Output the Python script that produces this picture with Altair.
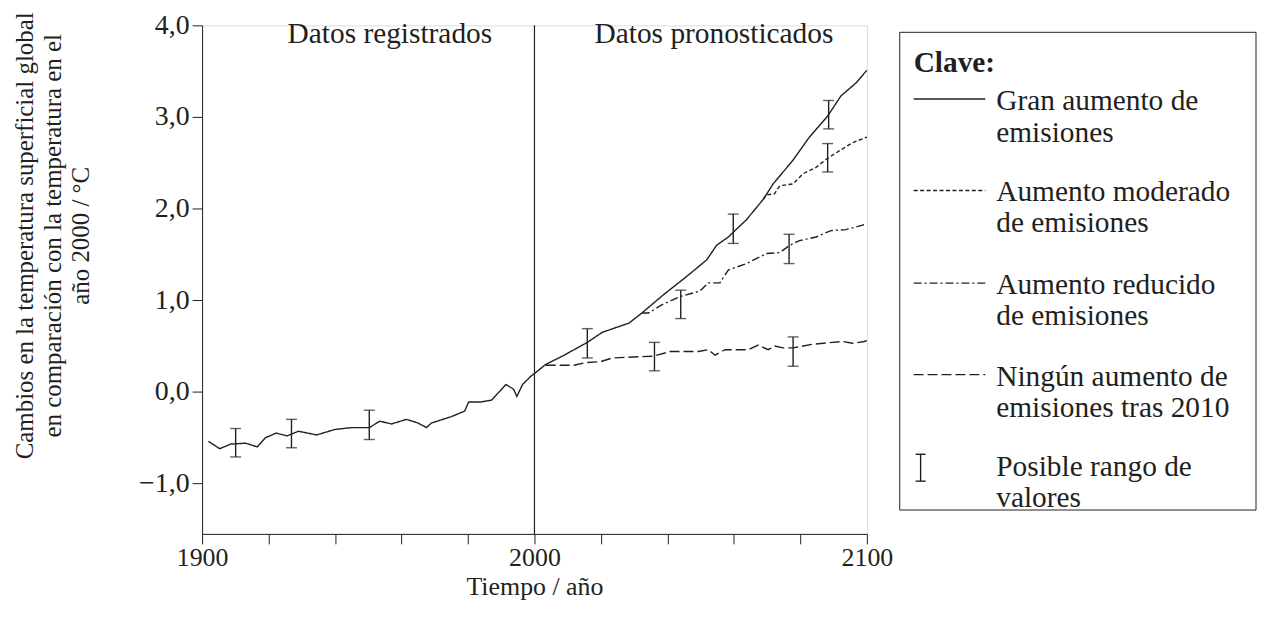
import altair as alt
import pandas as pd

FONT = "Liberation Serif"
INK = "#231f20"

# ---- recorded data (1900-2000)
rec_year = [1901.9, 1905.3, 1908.6, 1913.1, 1916.6, 1919.1, 1922.3, 1925.6, 1929.0, 1934.5,
            1940.0, 1945.0, 1950.3, 1953.5, 1957.0, 1961.5, 1965.0, 1967.5, 1969.0, 1975.0,
            1979.0, 1980.2, 1983.9, 1987.1, 1991.4, 1993.7, 1994.7, 1996.4, 1998.9, 2000.0]
rec_val = [-0.54, -0.62, -0.57, -0.56, -0.60, -0.50, -0.45, -0.48, -0.43, -0.47,
           -0.41, -0.39, -0.39, -0.32, -0.35, -0.30, -0.34, -0.39, -0.34, -0.27,
           -0.21, -0.11, -0.11, -0.09, 0.08, 0.03, -0.05, 0.08, 0.17, 0.20]

# ---- projections
high_year = [2000.0, 2003.4, 2008.4, 2015.9, 2020.4, 2028.4, 2032.3, 2038.8, 2045.8, 2051.8,
             2054.8, 2058.3, 2063.8, 2068.8, 2071.8, 2077.8, 2082.7, 2088.2, 2092.2, 2096.7, 2100.0]
high_val = [0.20, 0.30, 0.39, 0.54, 0.65, 0.75, 0.86, 1.06, 1.26, 1.44,
            1.60, 1.69, 1.88, 2.10, 2.27, 2.53, 2.78, 3.01, 3.23, 3.37, 3.51]

mod_year = [2068.8, 2069.8, 2072.2, 2073.8, 2077.8, 2080.8, 2084.7, 2088.2, 2091.7, 2095.7, 2100.0]
mod_val = [2.10, 2.15, 2.16, 2.25, 2.27, 2.38, 2.45, 2.55, 2.63, 2.72, 2.78]

red_year = [2032.3, 2034.3, 2038.3, 2043.8, 2049.8, 2052.3, 2055.8, 2058.3, 2063.8, 2069.8,
            2073.8, 2076.8, 2079.7, 2084.7, 2089.2, 2093.7, 2098.7, 2100.0]
red_val = [0.86, 0.86, 0.95, 1.04, 1.10, 1.19, 1.19, 1.33, 1.40, 1.51,
           1.52, 1.60, 1.65, 1.69, 1.76, 1.77, 1.82, 1.83]

none_year = [2003.4, 2011.9, 2015.4, 2019.9, 2023.4, 2035.8, 2040.8, 2049.3, 2052.3, 2054.3,
             2057.3, 2064.3, 2067.3, 2070.3, 2072.3, 2074.8, 2077.8, 2083.7, 2089.7, 2092.7,
             2095.7, 2099.2, 2100.0]
none_val = [0.29, 0.29, 0.32, 0.33, 0.37, 0.39, 0.44, 0.44, 0.46, 0.40,
            0.46, 0.46, 0.51, 0.46, 0.50, 0.48, 0.48, 0.52, 0.54, 0.55,
            0.53, 0.55, 0.56]

# ---- possible ranges (error bars)
eb_year = [1910.1, 1926.9, 1950.3, 2015.9, 2036.1, 2044.0, 2059.8, 2076.6, 2077.8, 2088.2, 2088.5]
eb_lo = [-0.71, -0.61, -0.52, 0.37, 0.23, 0.80, 1.62, 1.40, 0.28, 2.40, 2.87]
eb_hi = [-0.40, -0.30, -0.20, 0.69, 0.54, 1.11, 1.94, 1.72, 0.60, 2.71, 3.18]

series_names = ["Registrado", "Gran aumento", "Aumento moderado", "Aumento reducido", "Ningún aumento"]
y_ticks = [-1, 0, 1, 2, 3, 4]
x_ticks = list(range(1900, 2101, 20))

region_labels = ["Datos registrados", "Datos pronosticados"]
region_x = [1956.5, 2054.0]
region_y = [3.9, 3.9]

legend_title = "Clave:"
legend_labels = [["Gran aumento de", "emisiones"],
                 ["Aumento moderado", "de emisiones"],
                 ["Aumento reducido", "de emisiones"],
                 ["Ningún aumento de", "emisiones tras 2010"],
                 ["Posible rango de", "valores"]]

y_title = ["Cambios en la temperatura superficial global",
           "en comparación con la temperatura en el",
           "año 2000 / °C"]
x_title = "Tiempo / año"

# ---- build tables
rows = []
for name, ys, vs in zip(series_names,
                        [rec_year, high_year, mod_year, red_year, none_year],
                        [rec_val, high_val, mod_val, red_val, none_val]):
    for yr, v in zip(ys, vs):
        rows.append({"year": yr, "value": v, "serie": name})
lines_df = pd.DataFrame(rows)
eb_df = pd.DataFrame({"year": eb_year, "lo": eb_lo, "hi": eb_hi})
reg_df = pd.DataFrame({"year": region_x, "value": region_y, "t": region_labels})

dashes = [[1, 0], [1, 0], [4, 2.5], [8, 3, 2, 3], [10, 4]]

xscale = alt.Scale(domain=[1900, 2100], nice=False, zero=False)
yscale = alt.Scale(domain=[-1.55, 4.0], nice=False, zero=False)

x_axis = alt.Axis(values=x_ticks, format="d",
                  labelExpr="datum.value % 100 === 0 ? datum.label : ''",
                  tickSize=10, labelPadding=1, labelFlush=False, labelOverlap=False,
                  grid=False, domainColor=INK, tickColor=INK, labelColor=INK,
                  labelFontSize=26, labelFont=FONT,
                  title=x_title, titleFont=FONT, titleFontSize=26, titleFontWeight="normal",
                  titleColor=INK, titleBaseline="bottom", titleY=66)
y_axis = alt.Axis(values=y_ticks,
                  labelExpr="replace(replace(format(datum.value, '.1f'), '.', ','), '-', '\u2212')",
                  tickSize=10, labelPadding=3, labelFlush=False, labelOverlap=False,
                  grid=False, domainColor=INK, tickColor=INK, labelColor=INK,
                  labelFontSize=28, labelFont=FONT,
                  title=y_title, titleFont=FONT, titleFontSize=25, titleFontWeight="normal",
                  titleColor=INK, titleLineHeight=28, titleAngle=270,
                  titleAlign="center", titleBaseline="middle", titleX=-178, titleY=211)


def X(field):
    return alt.X(field, scale=xscale, axis=x_axis)


def Y(field):
    return alt.Y(field, scale=yscale, axis=y_axis)


lines = alt.Chart(lines_df).mark_line(color=INK, strokeWidth=1.4).encode(
    x=X("year:Q"),
    y=Y("value:Q"),
    detail="serie:N",
    strokeDash=alt.StrokeDash("serie:N", scale=alt.Scale(domain=series_names, range=dashes), legend=None),
    order="year:Q",
)

divider = alt.Chart(pd.DataFrame({"year": [2000]})).mark_rule(color=INK, strokeWidth=1.2).encode(
    x=X("year:Q"))

eb_rule = alt.Chart(eb_df).mark_rule(color=INK, strokeWidth=1.4).encode(
    x=X("year:Q"), y=Y("lo:Q"), y2="hi:Q")
eb_lo_tick = alt.Chart(eb_df).mark_tick(orient="horizontal", size=11, thickness=1.4, color=INK).encode(
    x=X("year:Q"), y=Y("lo:Q"))
eb_hi_tick = alt.Chart(eb_df).mark_tick(orient="horizontal", size=11, thickness=1.4, color=INK).encode(
    x=X("year:Q"), y=Y("hi:Q"))

regions = alt.Chart(reg_df).mark_text(font=FONT, fontSize=29.5, color=INK, baseline="middle").encode(
    x=X("year:Q"), y=Y("value:Q"), text="t:N")

# ---- key (legend) drawn beside the plot
one = pd.DataFrame({"k": [0]})
legend_layers = []
legend_layers.append(alt.Chart(one).mark_rect(fillOpacity=0, stroke=INK, strokeWidth=1).encode(
    x=alt.value(701), x2=alt.value(1059), y=alt.value(7), y2=alt.value(487)))

FS_LEG = 29.5


def txt(s, x, y, bold=False):
    return alt.Chart(pd.DataFrame({"t": [s]})).mark_text(
        font=FONT, fontSize=FS_LEG, color=INK, align="left", baseline="middle",
        fontWeight="bold" if bold else "normal").encode(
        x=alt.value(x), y=alt.value(y), text="t:N")


legend_layers.append(txt(legend_title, 715, 38, bold=True))
sample_y = [74, 166, 259, 351]
sample_dash = [[1, 0], [4, 2.5], [8, 3, 2, 3], [10, 4]]
for sy, dsh in zip(sample_y, sample_dash):
    legend_layers.append(alt.Chart(one).mark_rule(color=INK, strokeWidth=1.4, strokeDash=dsh).encode(
        x=alt.value(715), x2=alt.value(787), y=alt.value(sy)))
# error bar symbol
legend_layers.append(alt.Chart(one).mark_rule(color=INK, strokeWidth=1.4).encode(
    x=alt.value(722), y=alt.value(431), y2=alt.value(458)))
for cy in (431, 458):
    legend_layers.append(alt.Chart(one).mark_rule(color=INK, strokeWidth=1.4).encode(
        x=alt.value(717), x2=alt.value(727), y=alt.value(cy)))

text_y = [(76, 108), (168, 199), (261, 292), (353, 385), (444, 475)]
for (l1, l2), (y1, y2) in zip(legend_labels, text_y):
    legend_layers.append(txt(l1, 798, y1))
    legend_layers.append(txt(l2, 798, y2))

chart = alt.layer(lines, divider, eb_rule, eb_lo_tick, eb_hi_tick, regions, *legend_layers).properties(
    width=668, height=511,
    autosize=alt.AutoSizeParams(type="none"),
    padding={"left": 195, "top": 16, "right": 393, "bottom": 67},
).configure_view(strokeWidth=0).configure(font=FONT)

chart.save("out.html", embed_options={"renderer": "svg", "actions": False})
